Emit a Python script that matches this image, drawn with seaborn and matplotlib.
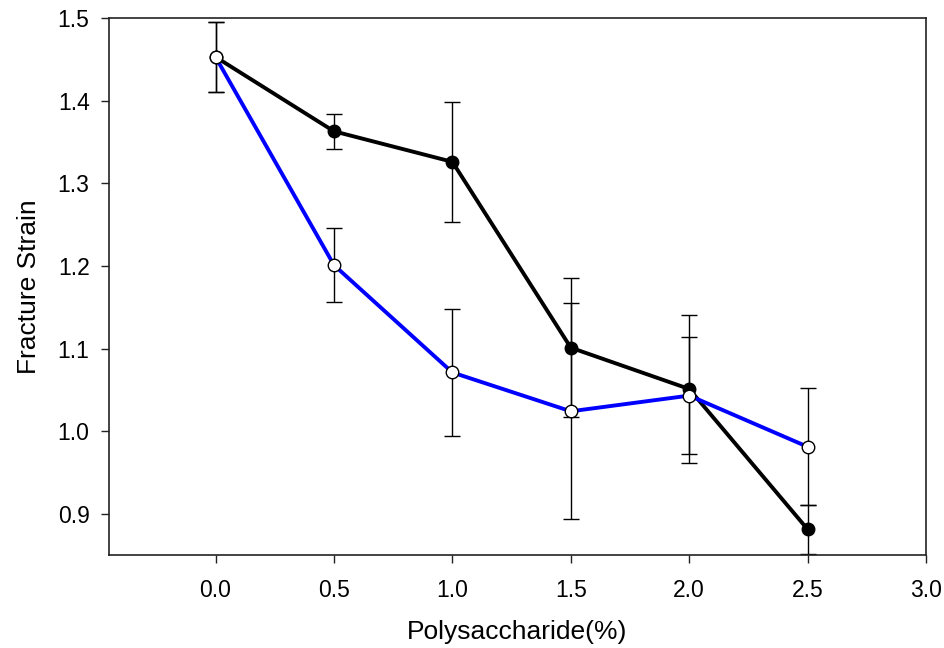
import matplotlib
matplotlib.use("Agg")
import matplotlib.pyplot as plt
import seaborn as sns
import pandas as pd

# data
conc = [0.0, 0.5, 1.0, 1.5, 2.0, 2.5]
strain_black = [1.453, 1.363, 1.326, 1.101, 1.051, 0.881]
err_black = [0.042, 0.021, 0.073, 0.084, 0.090, 0.030]
strain_blue = [1.453, 1.201, 1.071, 1.024, 1.043, 0.981]
err_blue = [0.042, 0.045, 0.077, 0.131, 0.071, 0.071]

sns.set_theme(style="ticks")
plt.rcParams['font.family'] = ['Liberation Sans', 'DejaVu Sans']
plt.rcParams['text.color'] = 'black'
plt.rcParams['axes.labelcolor'] = 'black'
plt.rcParams['xtick.color'] = 'black'
plt.rcParams['ytick.color'] = 'black'

fig = plt.figure(figsize=(9.45, 6.48), dpi=100)
ax = fig.add_axes([0.1153, 0.1435, 0.8647, 0.8285])

df_black = pd.DataFrame({"x": conc, "y": strain_black})
df_blue = pd.DataFrame({"x": conc, "y": strain_blue})

# error bars first, behind the markers
ax.errorbar(conc, strain_black, yerr=err_black, fmt='none', ecolor='black',
            elinewidth=1.0, capsize=5.8, capthick=1.0, zorder=1)
ax.errorbar(conc, strain_blue, yerr=err_blue, fmt='none', ecolor='black',
            elinewidth=1.0, capsize=5.8, capthick=1.0, zorder=1)

sns.lineplot(data=df_black, x="x", y="y", ax=ax, color='black', linewidth=2.8,
             marker='o', markersize=9, markerfacecolor='black',
             markeredgecolor='black', markeredgewidth=1.0, zorder=2)
sns.lineplot(data=df_blue, x="x", y="y", ax=ax, color='#0000ff', linewidth=2.8,
             marker='o', markersize=9, markerfacecolor='white',
             markeredgecolor='black', markeredgewidth=1.0, zorder=3)

ax.set_xlim(-0.45, 3.0)
ax.set_ylim(0.85, 1.5)
ax.set_xticks([0.0, 0.5, 1.0, 1.5, 2.0, 2.5, 3.0])
ax.set_xticklabels(["0.0", "0.5", "1.0", "1.5", "2.0", "2.5", "3.0"])
ax.set_yticks([0.9, 1.0, 1.1, 1.2, 1.3, 1.4, 1.5])
ax.set_yticklabels(["0.9", "1.0", "1.1", "1.2", "1.3", "1.4", "1.5"])

for s in ax.spines.values():
    s.set_visible(True)
    s.set_color('#222222')
    s.set_linewidth(1.2)

ax.tick_params(axis='both', direction='out', length=6, width=1.0,
               color='#222222', labelsize=16.5, labelcolor='black')
ax.tick_params(axis='x', pad=11)
ax.tick_params(axis='y', pad=8)
ax.set_xlabel("Polysaccharide(%)", fontsize=19, labelpad=13, color='black')
ax.set_ylabel("Fracture Strain", fontsize=19, labelpad=12, color='black')
ax.grid(False)

fig.savefig("out.png", dpi=100)
